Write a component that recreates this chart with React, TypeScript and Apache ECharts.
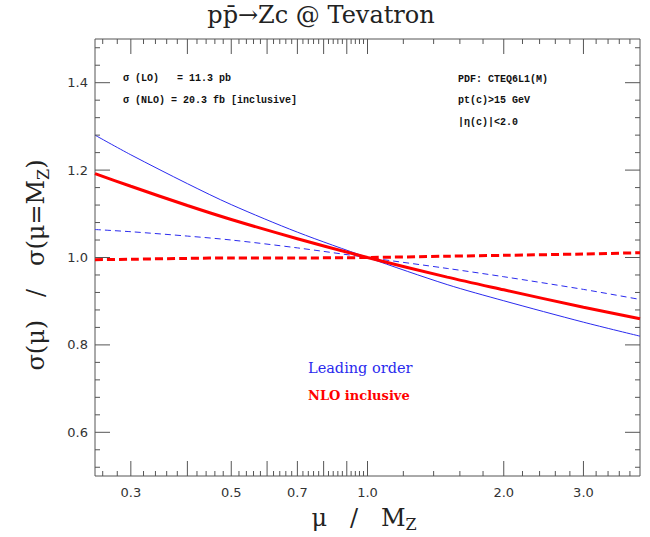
import React, { useEffect, useRef } from "react";
import * as echarts from "echarts";

// mu / M_Z sample points
const MU = [0.25, 0.3, 0.4, 0.5, 0.7, 1.0, 1.5, 2.0, 3.0, 4.0];
// ratios sigma(mu)/sigma(mu=MZ)
const LO_SOLID = [1.28, 1.235, 1.169, 1.121, 1.058, 1.0, 0.938, 0.901, 0.852, 0.82];
const NLO_SOLID = [1.192, 1.163, 1.119, 1.087, 1.043, 1.0, 0.955, 0.926, 0.886, 0.86];
const LO_DASHED = [1.064, 1.059, 1.049, 1.04, 1.022, 1.0, 0.975, 0.956, 0.927, 0.904];
const NLO_DASHED = [0.995, 0.996, 0.998, 0.999, 0.999, 1.0, 1.003, 1.005, 1.008, 1.011];

const X_MIN = 0.25;
const X_MAX = 4.0;
const X_MAJOR = [0.3, 0.4, 0.5, 0.6, 0.7, 0.8, 0.9, 1.0, 2.0, 3.0];
const X_MINOR = [
  0.26, 0.28, 0.32, 0.34, 0.36, 0.38, 0.42, 0.44, 0.46, 0.48, 0.52, 0.54, 0.56, 0.58,
  0.62, 0.64, 0.66, 0.68, 0.72, 0.74, 0.76, 0.78, 0.82, 0.84, 0.86, 0.88, 0.92, 0.94,
  0.96, 0.98, 1.2, 1.4, 1.6, 1.8, 2.2, 2.4, 2.6, 2.8, 3.2, 3.4, 3.6, 3.8,
];
const X_LABELS = [0.3, 0.5, 0.7, 1.0, 2.0, 3.0];

const Y_MIN = 0.5;
const Y_MAX = 1.5;
const Y_MAJOR = [0.6, 0.8, 1.0, 1.2, 1.4];
const Y_MINOR = [
  0.52, 0.56, 0.64, 0.68, 0.72, 0.76, 0.84, 0.88, 0.92, 0.96, 1.04, 1.08, 1.12, 1.16,
  1.24, 1.28, 1.32, 1.36, 1.44, 1.48,
];

const lg = (v: number) => Math.log10(v);
const pts = (ys: number[]) => MU.map((m, i) => [lg(m), ys[i]]);

const AXIS_COLOR = "#555";
const LABEL_FONT = "DejaVu Sans";
const SERIF = "DejaVu Serif";
const MONO = "Liberation Mono";
const MAJOR_LEN = 15;
const MINOR_LEN = 5;

export default function App() {
  const ref = useRef<HTMLDivElement>(null);
  useEffect(() => {
    if (!ref.current) return;
    const chart = echarts.init(ref.current, undefined, { renderer: "svg" });
    const line = (data: number[], color: string, width: number, type: any, z: number) => ({
      type: "line",
      data: pts(data),
      xAxisIndex: 0,
      yAxisIndex: 0,
      showSymbol: false,
      symbol: "none",
      smooth: 0.3,
      z,
      lineStyle: { color, width, type },
    });

    const xTickData = [
      ...X_MAJOR.map((v) => [lg(v), Y_MIN, MAJOR_LEN]),
      ...X_MINOR.map((v) => [lg(v), Y_MIN, MINOR_LEN]),
    ];
    const yTickData = [
      ...Y_MAJOR.map((v) => [lg(X_MIN), v, MAJOR_LEN]),
      ...Y_MINOR.map((v) => [lg(X_MIN), v, MINOR_LEN]),
    ];
    const tickStyle = { stroke: AXIS_COLOR, lineWidth: 1 };

    const text = (x: number, y: number, t: string, extra: any) => ({
      type: "text",
      x,
      y,
      style: {
        text: t,
        fill: "#111",
        textAlign: "left",
        textVerticalAlign: "middle",
        ...extra,
      },
    });
    const annot = { fontFamily: MONO, fontSize: 10, fontWeight: "bold" };

    chart.setOption({
      animation: false,
      backgroundColor: "#fff",
      grid: {
        left: 95,
        right: 10,
        top: 39,
        bottom: 61,
        containLabel: false,
        show: true,
        borderColor: AXIS_COLOR,
        borderWidth: 1,
        backgroundColor: "transparent",
      },
      xAxis: {
        type: "value",
        min: lg(X_MIN),
        max: lg(X_MAX),
        axisLine: { show: false },
        axisTick: { show: false },
        axisLabel: {
          show: true,
          customValues: X_LABELS.map(lg),
          formatter: (v: number) => Math.pow(10, v).toFixed(1),
          margin: 10,
          fontSize: 13,
          fontFamily: LABEL_FONT,
          color: "#333",
        },
        splitLine: { show: false },
      },
      yAxis: {
        type: "value",
        min: Y_MIN,
        max: Y_MAX,
        axisLine: { show: false },
        axisTick: { show: false },
        axisLabel: {
          show: true,
          customValues: Y_MAJOR,
          formatter: (v: number) => v.toFixed(1),
          margin: 7,
          fontSize: 13,
          fontFamily: LABEL_FONT,
          color: "#333",
        },
        splitLine: { show: false },
      },
      series: [
        line(LO_SOLID, "#2a2aee", 1, "solid", 2),
        line(LO_DASHED, "#2a2aee", 1, [6, 4], 2),
        line(NLO_SOLID, "#ff0000", 3, "solid", 3),
        line(NLO_DASHED, "#ff0000", 3, [8, 4], 3),
        {
          type: "custom",
          xAxisIndex: 0,
          yAxisIndex: 0,
          clip: false,
          silent: true,
          z: 5,
          data: xTickData,
          renderItem: (params: any, api: any) => {
            const cs = params.coordSys;
            const x = api.coord([api.value(0), api.value(1)])[0];
            const len = api.value(2);
            const bottom = cs.y + cs.height;
            return {
              type: "group",
              children: [
                { type: "line", shape: { x1: x, y1: bottom, x2: x, y2: bottom - len }, style: tickStyle },
                { type: "line", shape: { x1: x, y1: cs.y, x2: x, y2: cs.y + len }, style: tickStyle },
              ],
            };
          },
        },
        {
          type: "custom",
          xAxisIndex: 0,
          yAxisIndex: 0,
          clip: false,
          silent: true,
          z: 5,
          data: yTickData,
          renderItem: (params: any, api: any) => {
            const cs = params.coordSys;
            const y = api.coord([api.value(0), api.value(1)])[1];
            const len = api.value(2);
            const right = cs.x + cs.width;
            return {
              type: "group",
              children: [
                { type: "line", shape: { x1: cs.x, y1: y, x2: cs.x + len, y2: y }, style: tickStyle },
                { type: "line", shape: { x1: right, y1: y, x2: right - len, y2: y }, style: tickStyle },
              ],
            };
          },
        },
      ],
      graphic: [
        {
          type: "text",
          x: 321,
          y: 15,
          style: {
            text: "pp\u0304\u2192Zc @ Tevatron",
            fontFamily: SERIF,
            fontSize: 24,
            fill: "#222",
            textAlign: "center",
            textVerticalAlign: "middle",
          },
        },
        text(123, 78, "\u03c3 (LO)   = 11.3 pb", annot),
        text(123, 100, "\u03c3 (NLO) = 20.3 fb [inclusive]", annot),
        text(458, 79, "PDF: CTEQ6L1(M)", annot),
        text(458, 100, "pt(c)>15 GeV", annot),
        text(458, 122, "|\u03b7(c)|<2.0", annot),
        text(308, 368, "Leading order", { fontFamily: SERIF, fontSize: 14.5, fill: "#2a2aee" }),
        text(308, 395, "NLO inclusive", {
          fontFamily: SERIF,
          fontSize: 13,
          fontWeight: "bold",
          fill: "#ff0000",
        }),
        {
          type: "text",
          x: 36,
          y: 265,
          rotation: Math.PI / 2,
          style: {
            text: "{a|\u03c3(\u03bc)   /   \u03c3(\u03bc=M}{s|Z}{a|)}",
            fill: "#222",
            textAlign: "center",
            textVerticalAlign: "middle",
            rich: {
              a: { fontFamily: SERIF, fontSize: 24, lineHeight: 30, fill: "#222" },
              s: { fontFamily: SERIF, fontSize: 16, lineHeight: 14, verticalAlign: "bottom", fill: "#222" },
            },
          },
        },
        {
          type: "text",
          x: 364,
          y: 518,
          style: {
            text: "{a|\u03bc   /   M}{s|Z}",
            fill: "#222",
            textAlign: "center",
            textVerticalAlign: "middle",
            rich: {
              a: { fontFamily: SERIF, fontSize: 24, lineHeight: 28, fill: "#222" },
              s: { fontFamily: SERIF, fontSize: 16, lineHeight: 13, verticalAlign: "bottom", fill: "#222" },
            },
          },
        },
      ],
    });
    return () => chart.dispose();
  }, []);
  return (
    <div
      ref={ref}
      style={{ width: 650, height: 537, position: "fixed", left: 0, top: 0 }}
    />
  );
}
